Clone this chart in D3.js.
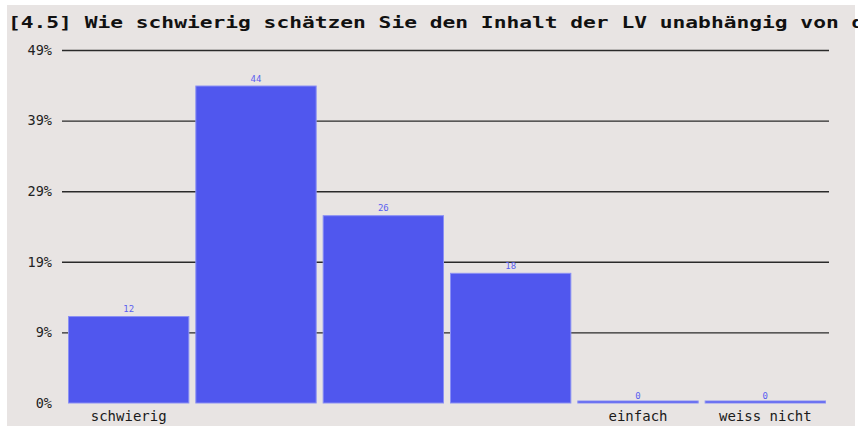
<!DOCTYPE html>
<html>
<head>
<meta charset="utf-8">
<script src="https://cdn.jsdelivr.net/npm/d3@7"></script>
<style>
  html, body { margin: 0; padding: 0; background: #ffffff; }
  svg { display: block; }
</style>
</head>
<body>
<script>
// ---- data ----
const title = "[4.5] Wie schwierig schätzen Sie den Inhalt der LV unabhängig von der Lehrperson ein?";
const categories = ["schwierig", "", "", "", "einfach", "weiss nicht"];
const values = [12, 44, 26, 18, 0, 0];
const yMax = 49;
const tickLabels = ["0%", "9%", "19%", "29%", "39%", "49%"];

// ---- layout ----
const W = 858, H = 426;
const svg = d3.select("body").append("svg").attr("width", W).attr("height", H);

svg.append("rect").attr("x", 7).attr("y", 5).attr("width", 848).attr("height", H - 5)
  .attr("fill", "#e8e4e3");

// title
svg.append("text")
  .attr("x", 8).attr("y", 28)
  .attr("font-family", "DejaVu Sans Mono")
  .attr("font-weight", "bold")
  .attr("font-size", 15)
  .attr("fill", "#111")
  .attr("textLength", title.length * 12.78)
  .attr("lengthAdjust", "spacingAndGlyphs")
  .text(title);

const y = d3.scaleLinear().domain([0, yMax]).range([403, 50]);
const x = d3.scaleBand().domain(d3.range(categories.length))
  .range([65, 829]).paddingInner(0.055).paddingOuter(0.0275);

// gridlines + y labels
const tickVals = tickLabels.map((_, i) => yMax * i / (tickLabels.length - 1));
const yAxis = d3.axisLeft(y)
  .tickValues(tickVals)
  .tickFormat((d, i) => tickLabels[i])
  .tickSize(829 - 62)
  .tickPadding(10);
const gy = svg.append("g").attr("transform", "translate(829,0)").call(yAxis);
gy.select(".domain").remove();
gy.selectAll(".tick line").attr("stroke", "#2a2a2a").attr("stroke-width", 1.4)
  .filter((d) => d === 0).remove();
gy.selectAll(".tick text")
  .attr("font-family", "DejaVu Sans Mono")
  .attr("font-size", 13.5)
  .attr("fill", "#222");

// bars (zero values still drawn as a thin baseline bar)
const minH = 2;
svg.append("g").selectAll("rect").data(values).join("rect")
  .attr("x", (d, i) => x(i))
  .attr("y", d => Math.min(y(d), y(0) - minH))
  .attr("width", x.bandwidth())
  .attr("height", d => Math.max(minH, y(0) - y(d)))
  .attr("fill", "#5057ee")
  .attr("stroke", "#8a8ff4")
  .attr("stroke-width", 1);

// value labels
svg.append("g").selectAll("text").data(values).join("text")
  .attr("x", (d, i) => x(i) + x.bandwidth() / 2)
  .attr("y", d => y(d) - 4.5)
  .attr("text-anchor", "middle")
  .attr("font-family", "DejaVu Sans Mono")
  .attr("font-size", 9)
  .attr("fill", "#5a60f0")
  .text(d => d);

// x labels
const xAxis = d3.axisBottom(x).tickSize(0).tickPadding(0).tickFormat(i => categories[i]);
const gx = svg.append("g").attr("transform", "translate(0,403)").call(xAxis);
gx.select(".domain").remove();
gx.selectAll(".tick text")
  .attr("dy", null)
  .attr("y", 18)
  .attr("font-family", "DejaVu Sans Mono")
  .attr("font-size", 14)
  .attr("fill", "#1a1a1a");
</script>
</body>
</html>
